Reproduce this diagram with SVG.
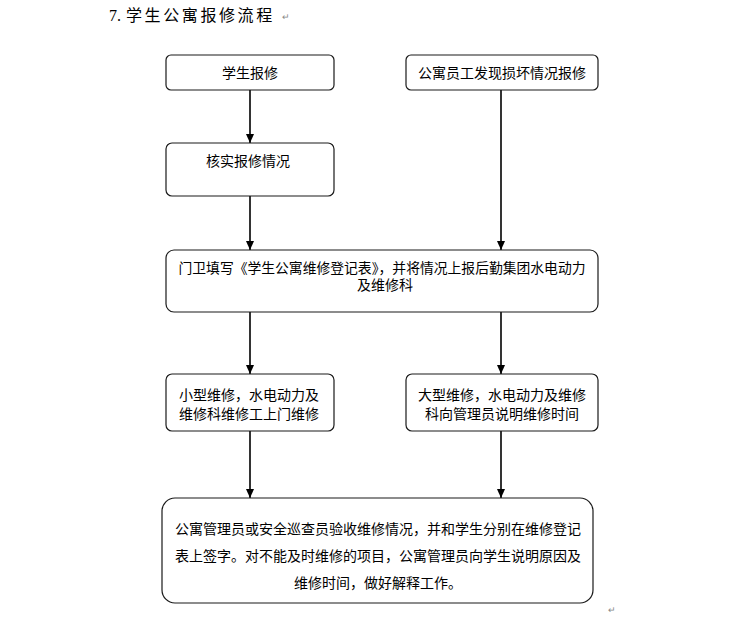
<svg xmlns="http://www.w3.org/2000/svg" width="756" height="624" viewBox="0 0 756 624">
<defs>
<style>
.box{fill:#fff;stroke:#1a1a1a;stroke-width:1.2}
.t{font-family:"Liberation Sans","Noto Sans CJK SC",sans-serif;font-size:14px;fill:#000;text-anchor:middle}
.c{stroke:#000;stroke-width:1.6;fill:none;marker-end:url(#ah)}
.mark{font-family:"Liberation Sans",sans-serif;font-size:9px;fill:#888}
</style>
<marker id="ah" markerUnits="userSpaceOnUse" markerWidth="9" markerHeight="8" refX="9" refY="4" orient="auto" viewBox="0 0 9 8">
<path d="M0,0 L9,4 L0,8 Z" fill="#000"/>
</marker>
</defs>
<rect width="756" height="624" fill="#fff"/>
<text y="21" font-family="'Liberation Serif','Noto Sans CJK SC',serif" font-size="16" fill="#000"><tspan x="109">7.</tspan><tspan x="126" letter-spacing="2.6">学生公寓报修流程</tspan></text>
<text x="282" y="20" class="mark">↵</text>
<g id="connectors">
<line class="c" x1="250" y1="90" x2="250" y2="143"/>
<line class="c" x1="501" y1="90" x2="501" y2="250"/>
<line class="c" x1="250" y1="196" x2="250" y2="250"/>
<line class="c" x1="250" y1="312" x2="250" y2="374"/>
<line class="c" x1="501" y1="312" x2="501" y2="374"/>
<line class="c" x1="250" y1="431" x2="250" y2="498"/>
<line class="c" x1="501" y1="431" x2="501" y2="498"/>
</g>
<g id="n1">
<rect class="box" x="166" y="55" width="168" height="35" rx="5"/>
<text class="t" x="250" y="78">学生报修</text>
</g>
<g id="n2">
<rect class="box" x="406" y="55" width="192" height="35" rx="5"/>
<text class="t" x="502" y="78">公寓员工发现损坏情况报修</text>
</g>
<g id="n3">
<rect class="box" x="166" y="143" width="168" height="53" rx="6"/>
<text class="t" x="248" y="166">核实报修情况</text>
</g>
<g id="n4">
<rect class="box" x="166" y="250" width="432" height="62" rx="8"/>
<text class="t" x="382" y="273" textLength="407" lengthAdjust="spacingAndGlyphs">门卫填写《学生公寓维修登记表》，并将情况上报后勤集团水电动力</text>
<text class="t" x="385" y="290">及维修科</text>
</g>
<g id="n5">
<rect class="box" x="166" y="374" width="168" height="57" rx="6"/>
<text class="t" x="249" y="400">小型维修，水电动力及</text>
<text class="t" x="249" y="419">维修科维修工上门维修</text>
</g>
<g id="n6">
<rect class="box" x="406" y="374" width="192" height="57" rx="6"/>
<text class="t" x="502" y="400">大型维修，水电动力及维修</text>
<text class="t" x="502" y="419">科向管理员说明维修时间</text>
</g>
<g id="n7">
<rect class="box" x="162" y="498" width="431" height="105" rx="13"/>
<text class="t" x="378" y="534">公寓管理员或安全巡查员验收维修情况，并和学生分别在维修登记</text>
<text class="t" x="378" y="561">表上签字。对不能及时维修的项目，公寓管理员向学生说明原因及</text>
<text class="t" x="378" y="588">维修时间，做好解释工作。</text>
</g>
<text x="608" y="613" class="mark">↵</text>
</svg>
